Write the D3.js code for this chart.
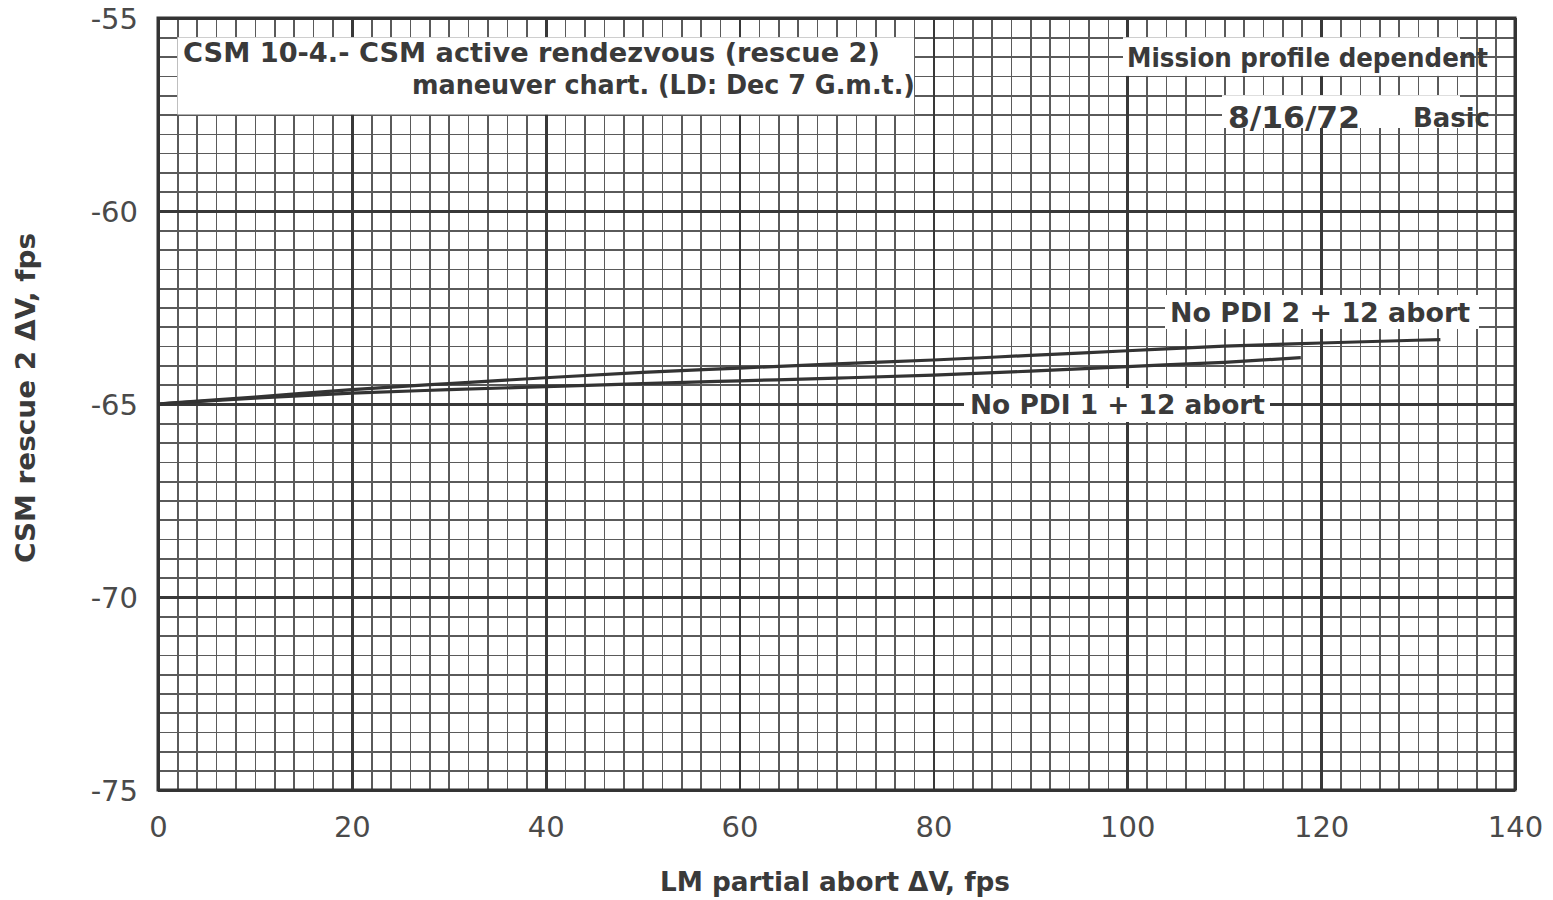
<!DOCTYPE html>
<html>
<head>
<meta charset="utf-8">
<script src="https://cdn.jsdelivr.net/npm/d3@7"></script>
<style>
  body { margin: 0; background: #fff; }
  svg { display: block; }
  .grid line { shape-rendering: crispEdges; }
  .grid path { display: none; }
  .ticklbl text { font-family: "DejaVu Sans", sans-serif; font-size: 29px; fill: #4a4a4a; }
  .ticklbl path, .ticklbl line { display: none; }
  .note { font-family: "DejaVu Sans Condensed", "Liberation Sans Narrow", sans-serif; font-weight: bold; fill: #3a3a3a; }
</style>
</head>
<body>
<svg width="1553" height="900"></svg>
<script>
// chart data
var xTicks = [0, 20, 40, 60, 80, 100, 120, 140];
var yTicks = [-55, -60, -65, -70, -75];

var pdi2X = [0, 10, 20, 30, 40, 50, 60, 70, 80, 90, 100, 110, 120, 132.3];
var pdi2Y = [-65.0, -64.82, -64.63, -64.47, -64.32, -64.18, -64.07, -63.96, -63.86, -63.74, -63.62, -63.5, -63.42, -63.33];

var pdi1X = [0, 10, 20, 30, 40, 50, 60, 70, 80, 90, 100, 110, 117.9];
var pdi1Y = [-65.0, -64.85, -64.72, -64.63, -64.55, -64.47, -64.40, -64.33, -64.25, -64.15, -64.03, -63.92, -63.8];

var margin = {top: 18, left: 158};
var width = 1357, height = 772;

var svg = d3.select("svg");
var g = svg.append("g").attr("transform", translate(margin.left, margin.top));

var x = d3.scaleLinear().domain([0, 140]).range([0, width]);
var y = d3.scaleLinear().domain([-55, -75]).range([0, height]);

// minor grid (2 fps across, 0.5 fps down)
g.append("g").attr("class", "grid")
  .attr("transform", translate(0, height))
  .call(d3.axisBottom(x).tickValues(d3.range(0, 141, 2)).tickSize(height).tickFormat(""))
  .selectAll("line").attr("y2", -height).attr("stroke", "#5a5a5a").attr("stroke-width", 1.6);

g.append("g").attr("class", "grid")
  .call(d3.axisLeft(y).tickValues(d3.range(-55, -75.01, -0.5)).tickSize(-width).tickFormat(""))
  .selectAll("line").attr("stroke", "#5a5a5a").attr("stroke-width", 1.6);

// heavy grid
g.append("g").attr("class", "grid")
  .call(d3.axisBottom(x).tickValues(xTicks).tickSize(height).tickFormat(""))
  .selectAll("line").attr("stroke", "#383838").attr("stroke-width", 2.6);

g.append("g").attr("class", "grid")
  .call(d3.axisLeft(y).tickValues(yTicks).tickSize(-width).tickFormat(""))
  .selectAll("line").attr("stroke", "#383838").attr("stroke-width", 2.6);

g.append("rect")
  .attr("width", width).attr("height", height)
  .attr("fill", "none").attr("stroke", "#333").attr("stroke-width", 3);

// tick labels
g.append("g").attr("class", "ticklbl")
  .attr("transform", translate(0, height))
  .call(d3.axisBottom(x).tickValues(xTicks).tickSize(0).tickPadding(26));

g.append("g").attr("class", "ticklbl")
  .call(d3.axisLeft(y).tickValues(yTicks).tickSize(0).tickPadding(20)
    .tickFormat(function(d) { return String(d); }))
  .selectAll("text").attr("dy", "0.36em");

// curves
var line = d3.line()
  .x(function(d) { return x(d[0]); })
  .y(function(d) { return y(d[1]); })
  .curve(d3.curveMonotoneX);

[d3.zip(pdi2X, pdi2Y), d3.zip(pdi1X, pdi1Y)].forEach(function(pts) {
  g.append("path")
    .datum(pts)
    .attr("d", line)
    .attr("fill", "none")
    .attr("stroke", "#333")
    .attr("stroke-width", 3.2);
});

// white label boxes with text
function note(bx, by, bw, bh, lines) {
  g.append("rect")
    .attr("x", bx).attr("y", by).attr("width", bw).attr("height", bh)
    .attr("fill", "#fff");
  lines.forEach(function(l) {
    g.append("text")
      .attr("class", "note")
      .attr("x", l.x).attr("y", l.y)
      .attr("dy", "0.36em")
      .attr("font-size", l.size || 27)
      .attr("font-weight", l.weight || "bold")
      .attr("textLength", l.len)
      .attr("lengthAdjust", "spacingAndGlyphs")
      .text(l.t);
  });
}

note(x(2), y(-55.5), x(78) - x(2), y(-57.5) - y(-55.5), [
  {t: "CSM 10-4.- CSM active rendezvous (rescue 2)", x: 25, y: 34, len: 697},
  {t: "maneuver chart. (LD: Dec 7 G.m.t.)", x: 254, y: 66, len: 503}
]);

note(965, y(-55.5), 337, y(-56.5) - y(-55.5), [
  {t: "Mission profile dependent", x: 969, y: 39, len: 361}
]);
note(1064, y(-57), 238, y(-57.85) - y(-57), [
  {t: "8/16/72", x: 1070, y: 99, len: 132, size: 30, weight: "normal"},
  {t: "Basic", x: 1255, y: 99, len: 77}
]);

note(1007, 277, 314, 34, [
  {t: "No PDI 2 + 12 abort", x: 1012, y: 294, len: 300}
]);
note(806, 370, 306, 34, [
  {t: "No PDI 1 + 12 abort", x: 812, y: 386, len: 295}
]);

// axis titles
svg.append("text")
  .attr("class", "note")
  .attr("transform", "translate(26,398) rotate(-90)")
  .attr("text-anchor", "middle")
  .attr("dy", "0.36em")
  .attr("font-size", 26)
  .attr("textLength", 330)
  .attr("lengthAdjust", "spacingAndGlyphs")
  .text("CSM rescue 2 \u0394V, fps");

svg.append("text")
  .attr("class", "note")
  .attr("x", 835).attr("y", 882)
  .attr("text-anchor", "middle")
  .attr("dy", "0.36em")
  .attr("font-size", 26)
  .attr("textLength", 350)
  .attr("lengthAdjust", "spacingAndGlyphs")
  .text("LM partial abort \u0394V, fps");

function translate(x, y) {
  return "translate(" + String(x) + "," + String(y) + ")";
}
</script>
</body>
</html>
